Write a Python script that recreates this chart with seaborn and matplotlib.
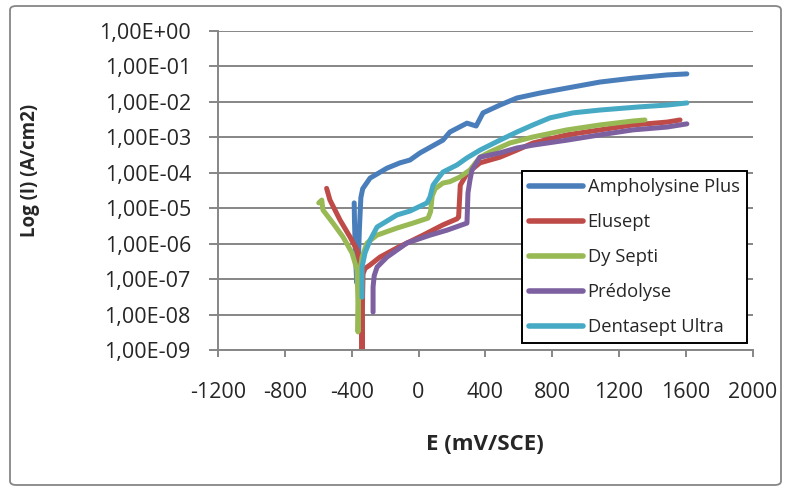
import numpy as np
import pandas as pd
import matplotlib
matplotlib.use("Agg")
import matplotlib.pyplot as plt
from matplotlib.patches import FancyBboxPatch
from matplotlib.ticker import FixedLocator, FuncFormatter
import seaborn as sns

# ---- data (E in mV/SCE, log10 of current density in A/cm2) ----
series_names = ["Ampholysine Plus", "Elusept", "Dy Septi", "Prédolyse", "Dentasept Ultra"]
series_colors = ["#4A7EBB", "#BE4B48", "#98B954", "#7D60A0", "#46AAC5"]

amph_E = [-385, -383, -378, -370, -360, -354, -345, -334, -290, -189, -111, -51, 9, 146, 188, 290, 345, 386, 487, 589, 727, 888, 1086, 1283, 1487, 1606]
amph_logI = [-4.85, -5.4, -6.2, -7.1, -6.5, -5.6, -4.7, -4.45, -4.15, -3.87, -3.72, -3.64, -3.44, -3.08, -2.85, -2.60, -2.68, -2.31, -2.09, -1.89, -1.75, -1.61, -1.44, -1.33, -1.24, -1.21]

elus_E = [-550, -530, -470, -410, -368, -350, -342, -338, -335, -332, -320, -290, -231, -129, 27, 146, 230, 240, 250, 290, 368, 487, 589, 685, 888, 1086, 1283, 1487, 1565]
elus_logI = [-4.44, -4.77, -5.33, -5.81, -6.18, -6.55, -7.5, -9.4, -7.6, -6.85, -6.70, -6.60, -6.38, -6.12, -5.76, -5.47, -5.30, -5.25, -4.35, -4.02, -3.72, -3.56, -3.36, -3.16, -2.93, -2.79, -2.65, -2.57, -2.51]

dy_E = [-597, -579, -572, -512, -452, -398, -368, -362, -362, -358, -338, -308, -249, -129, -33, 57, 72, 82, 100, 146, 188, 248, 308, 368, 428, 547, 685, 888, 1086, 1283, 1355]
dy_logI = [-4.85, -4.77, -5.05, -5.42, -5.81, -6.26, -6.74, -7.67, -8.49, -7.0, -6.38, -5.98, -5.76, -5.56, -5.42, -5.28, -5.10, -4.65, -4.45, -4.29, -4.25, -4.12, -3.92, -3.56, -3.41, -3.16, -2.99, -2.79, -2.65, -2.54, -2.51]

pred_E = [-272, -272, -265, -248, -189, -69, 69, 170, 290, 296, 308, 320, 368, 428, 487, 589, 685, 888, 1086, 1283, 1487, 1606]
pred_logI = [-7.93, -7.22, -6.9, -6.66, -6.38, -5.98, -5.76, -5.62, -5.42, -4.57, -4.20, -3.92, -3.56, -3.50, -3.44, -3.30, -3.22, -3.08, -2.93, -2.79, -2.71, -2.62]

dent_E = [-338, -338, -320, -290, -248, -129, -51, 51, 69, 87, 110, 146, 230, 290, 368, 487, 589, 685, 787, 924, 1086, 1325, 1487, 1606]
dent_logI = [-7.51, -6.66, -6.26, -5.90, -5.53, -5.19, -5.08, -4.85, -4.68, -4.35, -4.20, -3.98, -3.78, -3.58, -3.36, -3.08, -2.85, -2.65, -2.45, -2.31, -2.23, -2.14, -2.09, -2.03]

x_ticks = [-1200, -800, -400, 0, 400, 800, 1200, 1600, 2000]
y_exponents = [0, -1, -2, -3, -4, -5, -6, -7, -8, -9]

all_E = [amph_E, elus_E, dy_E, pred_E, dent_E]
all_logI = [amph_logI, elus_logI, dy_logI, pred_logI, dent_logI]

frames = []
for name, E, L in zip(series_names, all_E, all_logI):
    frames.append(pd.DataFrame({"E": E, "I": 10.0 ** np.array(L), "series": name}))
df = pd.concat(frames, ignore_index=True)

# ---- style ----
sns.set_theme(style="white")
plt.rcParams["font.family"] = ["Open Sans", "DejaVu Sans"]
GRAY = "#868686"
TICK_FS = 15.5
LEG_FS = 13.2

fig = plt.figure(figsize=(7.91, 4.95), dpi=100)
ax = fig.add_axes([218 / 791, 1 - 350 / 495, (752.7 - 218) / 791, (350 - 31) / 495])

sns.lineplot(data=df, x="E", y="I", hue="series", hue_order=series_names,
             palette=series_colors, sort=False, estimator=None, linewidth=3.6,
             ax=ax, legend=True)
for ln in ax.get_lines():
    ln.set_solid_capstyle("round")
    ln.set_solid_joinstyle("round")

ax.set_yscale("log")
ax.set_xlim(-1200, 2000)
ax.set_ylim(1e-9, 1e0)
ax.xaxis.set_major_locator(FixedLocator(x_ticks))
ax.yaxis.set_major_locator(FixedLocator([10.0 ** e for e in y_exponents]))
ax.yaxis.set_minor_locator(FixedLocator([]))
ax.yaxis.set_major_formatter(FuncFormatter(lambda v, p: "1,00E{:+03d}".format(int(round(np.log10(v))))))
ax.xaxis.set_major_formatter(FuncFormatter(lambda v, p: "{:d}".format(int(v))))

ax.grid(axis="y", color=GRAY, linewidth=1.4)
ax.grid(axis="x", visible=False)
ax.set_axisbelow(True)
for s in ["top", "right"]:
    ax.spines[s].set_visible(False)
for s in ["left", "bottom"]:
    ax.spines[s].set_color(GRAY)
    ax.spines[s].set_linewidth(1.4)
ax.tick_params(axis="y", which="major", direction="out", length=6.5, width=1.4, color=GRAY,
               labelsize=TICK_FS, pad=13, left=True)
ax.tick_params(axis="x", which="major", direction="out", length=5, width=1.4, color=GRAY,
               labelsize=TICK_FS, pad=18, bottom=True)
ax.tick_params(which="minor", left=False, bottom=False)

ax.set_xlabel("E (mV/SCE)", fontsize=16, fontweight="bold", labelpad=22)
ax.set_ylabel("Log (I) (A/cm2)", fontsize=13.5, fontweight="bold")
ax.yaxis.set_label_coords(-0.333, 0.563)

handles, labels = ax.get_legend_handles_labels()
leg = ax.legend(handles, labels, loc="upper left",
                bbox_to_anchor=((522 - 218) / 534.7, (350 - 171) / 319),
                fontsize=LEG_FS, frameon=True, fancybox=False, edgecolor="black",
                framealpha=1, borderpad=0.38, handlelength=2.95, handletextpad=0.25,
                labelspacing=0.93, borderaxespad=0)
leg.get_frame().set_linewidth(1.4)
for h in leg.get_lines():
    h.set_linewidth(4)
    h.set_solid_capstyle("round")

# chart-area border
border = FancyBboxPatch((10 / 791, 1 - 485 / 495), (781 - 10) / 791, (485 - 6) / 495,
                        boxstyle="round,pad=0,rounding_size=0.008", transform=fig.transFigure,
                        facecolor="none", edgecolor=GRAY, linewidth=1.3)
fig.patches.append(border)

fig.savefig("out.png", dpi=100)
